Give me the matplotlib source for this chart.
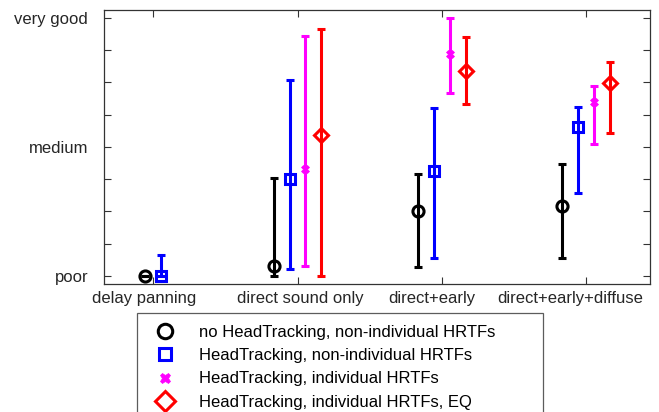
import numpy as np
import matplotlib
matplotlib.use("Agg")
from matplotlib import pyplot as plt
from matplotlib import transforms

plt.rcParams['font.family'] = ['Liberation Sans', 'DejaVu Sans']

####DATA####
categories = ['delay panning', 'direct sound only', 'direct+early', 'direct+early+diffuse']
ytick_values = [1, 3, 5]
ytick_labels = ['poor', 'medium', 'very good']

series_names = ['no HeadTracking, non-individual HRTFs',
                'HeadTracking, non-individual HRTFs',
                'HeadTracking, individual HRTFs',
                'HeadTracking, individual HRTFs, EQ']

# rating on 1 (poor) .. 5 (very good), NaN = not tested
mean_noht = [1.00, 1.15, 2.00, 2.08]
low_noht = [1.00, 1.00, 1.14, 1.28]
high_noht = [1.00, 2.51, 2.58, 2.73]

mean_ht = [1.00, 2.50, 2.63, 3.31]
low_ht = [1.00, 1.10, 1.27, 2.29]
high_ht = [1.32, 4.04, 3.60, 3.62]

mean_ind = [np.nan, 2.66, 4.44, 3.69]
low_ind = [np.nan, 1.15, 3.84, 3.05]
high_ind = [np.nan, 4.72, 5.00, 3.95]

mean_eq = [np.nan, 3.19, 4.17, 3.99]
low_eq = [np.nan, 1.00, 3.66, 3.22]
high_eq = [np.nan, 4.83, 4.71, 4.32]

####STYLE####
colors = ['black', '#0000ff', '#ff00ff', '#ff0000']
markers = ['o', 's', 'X', 'D']
msizes = [8, 6.5, 6, 7.5]
offsets = [-0.165, -0.055, 0.055, 0.165]
# category labels are not exactly centred on their ticks in the original
label_shift = [-0.06, 0.02, -0.07, -0.11]

fig = plt.figure(figsize=(6.59, 4.12), dpi=100)
ax = fig.add_axes([0.158, 0.311, 0.828, 0.665])

means = [mean_noht, mean_ht, mean_ind, mean_eq]
lows = [low_noht, low_ht, low_ind, low_eq]
highs = [high_noht, high_ht, high_ind, high_eq]

xbase = np.arange(1, len(categories) + 1, dtype=float)
for i in range(4):
    m = np.array(means[i])
    lo = np.array(lows[i])
    hi = np.array(highs[i])
    x = xbase + offsets[i]
    if i < 2:
        # only two conditions at delay panning, placed closer to the tick
        x[0] = xbase[0] + [-0.06, 0.055][i]
    ax.errorbar(x, m, yerr=[m - lo, hi - m], fmt='none', ecolor=colors[i],
                elinewidth=2.2, capsize=3, capthick=2.2, zorder=2)
    ax.plot(x, m, linestyle='none', marker=markers[i], markersize=msizes[i],
            markerfacecolor='none' if markers[i] != 'X' else colors[i],
            markeredgecolor=colors[i], markeredgewidth=2.2 if markers[i] != 'X' else 0.5,
            label=series_names[i], zorder=3)

ax.set_xlim(0.66, 4.44)
ax.set_ylim(0.875, 5.125)
ax.set_xticks(xbase)
ax.set_xticklabels([])
trans = transforms.blended_transform_factory(ax.transData, ax.transAxes)
for xi, lab, sh in zip(xbase, categories, label_shift):
    ax.text(xi + sh, -0.025, lab, transform=trans, ha='center', va='top',
            fontsize=12, color='#262626')

yt = np.arange(1, 5.01, 0.5)
ax.set_yticks(yt)
ax.set_yticklabels([ytick_labels[ytick_values.index(v)] if v in ytick_values else '' for v in yt],
                   fontsize=12, color='#262626')
ax.tick_params(axis='both', direction='in', length=5, width=0.8, color='#333333',
               top=True, right=True)
ax.tick_params(axis='y', pad=11.5)
for s in ax.spines.values():
    s.set_linewidth(0.9)
    s.set_color('#333333')

handles, labels = ax.get_legend_handles_labels()
leg = fig.legend(handles, labels, loc='upper left', bbox_to_anchor=(0.208, 0.240, 0.616, 0),
                 mode='expand', fontsize=12, markerscale=1.3, frameon=True, fancybox=False,
                 edgecolor='#333333', borderpad=0.7, borderaxespad=0, handlelength=2.0,
                 handletextpad=1.0, labelspacing=0.5)
leg.get_frame().set_linewidth(0.9)

fig.savefig('out.png', dpi=100)
